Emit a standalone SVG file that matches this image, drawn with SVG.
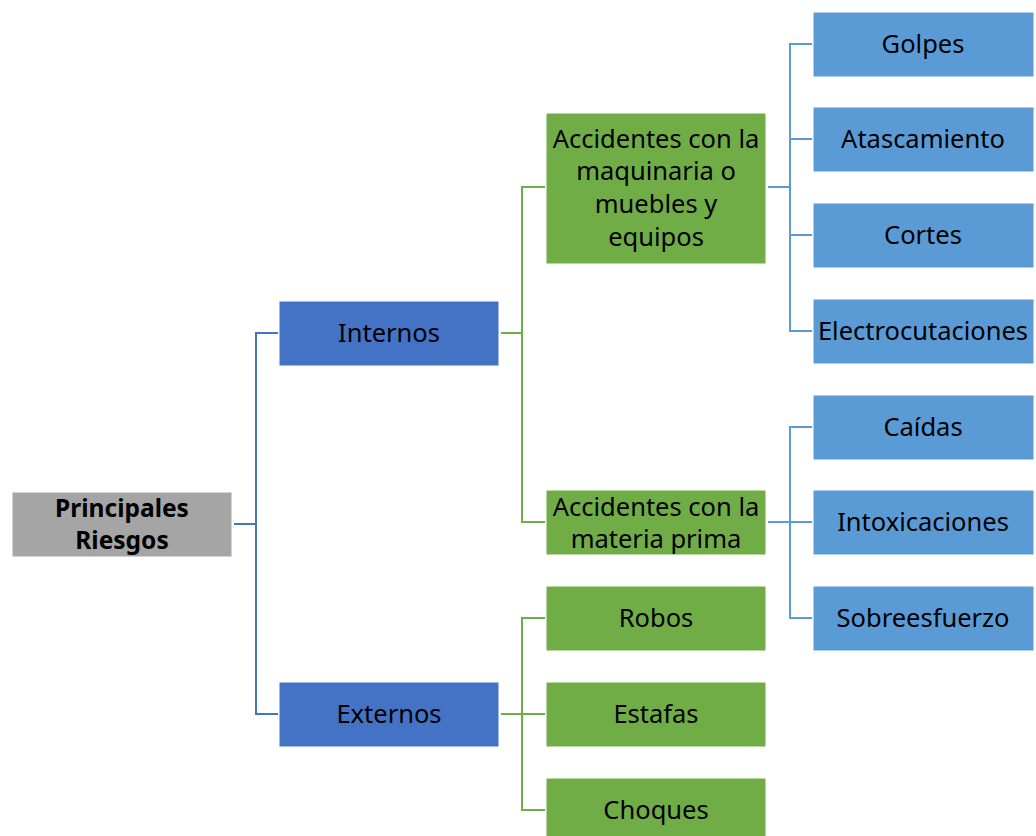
<svg xmlns="http://www.w3.org/2000/svg" width="1036" height="836" viewBox="0 0 1036 836">
  <style>
    .box { stroke: #ffffff; stroke-width: 1; }
    .root { fill: #a5a5a5; }
    .l1 { fill: #4472c4; }
    .l2 { fill: #70ad47; }
    .l3 { fill: #5b9bd5; }
    text { font-family: "Noto Sans", "Open Sans", sans-serif; font-size: 25.5px; fill: #000000; text-anchor: middle; dominant-baseline: central; }
    .bold { font-weight: bold; font-size: 24.5px; }
    .c1 { fill: none; stroke: #4472c4; stroke-width: 2; }
    .c2 { fill: none; stroke: #70ad47; stroke-width: 2; }
    .c3 { fill: none; stroke: #5b9bd5; stroke-width: 2; }
  </style>

  <g id="connectors">
    <!-- root to level 1 -->
    <path class="c1" d="M234 524 H256 M278 333 H256 V714 H278"/>
    <!-- Internos to level 2 -->
    <path class="c2" d="M501 333 H522 M545 187 H522 V522 H545"/>
    <!-- Externos to level 2 -->
    <path class="c2" d="M501 714 H522 M545 618 H522 V810 H545 M522 714 H545"/>
    <!-- maquinaria to level 3 -->
    <path class="c3" d="M768 187 H790 M812 44 H790 V331 H812 M790 139 H812 M790 235 H812"/>
    <!-- materia prima to level 3 -->
    <path class="c3" d="M768 522 H790 M812 427 H790 V618 H812 M790 522 H812"/>
  </g>

  <g id="root">
    <rect class="box root" x="12" y="492" width="220" height="65"/>
    <text class="bold" x="122" y="507">Principales</text>
    <text class="bold" x="122" y="539">Riesgos</text>
  </g>

  <g id="internos">
    <rect class="box l1" x="279" y="301" width="220" height="65"/>
    <text x="389" y="332">Internos</text>
  </g>
  <g id="externos">
    <rect class="box l1" x="279" y="682" width="220" height="65"/>
    <text x="389" y="713">Externos</text>
  </g>

  <g id="maquinaria">
    <rect class="box l2" x="546" y="113" width="220" height="151"/>
    <text x="656" y="138">Accidentes con la</text>
    <text x="656" y="170">maquinaria o</text>
    <text x="656" y="203">muebles y</text>
    <text x="656" y="236">equipos</text>
  </g>
  <g id="materia">
    <rect class="box l2" x="546" y="490" width="220" height="65"/>
    <text x="656" y="506">Accidentes con la</text>
    <text x="656" y="538">materia prima</text>
  </g>
  <g id="robos">
    <rect class="box l2" x="546" y="586" width="220" height="65"/>
    <text x="656" y="617">Robos</text>
  </g>
  <g id="estafas">
    <rect class="box l2" x="546" y="682" width="220" height="65"/>
    <text x="656" y="713">Estafas</text>
  </g>
  <g id="choques">
    <rect class="box l2" x="546" y="778" width="220" height="65"/>
    <text x="656" y="809">Choques</text>
  </g>

  <g id="golpes">
    <rect class="box l3" x="813" y="12" width="221" height="65"/>
    <text x="923" y="43">Golpes</text>
  </g>
  <g id="atascamiento">
    <rect class="box l3" x="813" y="107" width="221" height="65"/>
    <text x="923" y="138">Atascamiento</text>
  </g>
  <g id="cortes">
    <rect class="box l3" x="813" y="203" width="221" height="65"/>
    <text x="923" y="234">Cortes</text>
  </g>
  <g id="electrocutaciones">
    <rect class="box l3" x="813" y="299" width="221" height="65"/>
    <text x="923" y="330">Electrocutaciones</text>
  </g>
  <g id="caidas">
    <rect class="box l3" x="813" y="395" width="221" height="65"/>
    <text x="923" y="426">Caídas</text>
  </g>
  <g id="intoxicaciones">
    <rect class="box l3" x="813" y="490" width="221" height="65"/>
    <text x="923" y="521">Intoxicaciones</text>
  </g>
  <g id="sobreesfuerzo">
    <rect class="box l3" x="813" y="586" width="221" height="65"/>
    <text x="923" y="617">Sobreesfuerzo</text>
  </g>
</svg>
